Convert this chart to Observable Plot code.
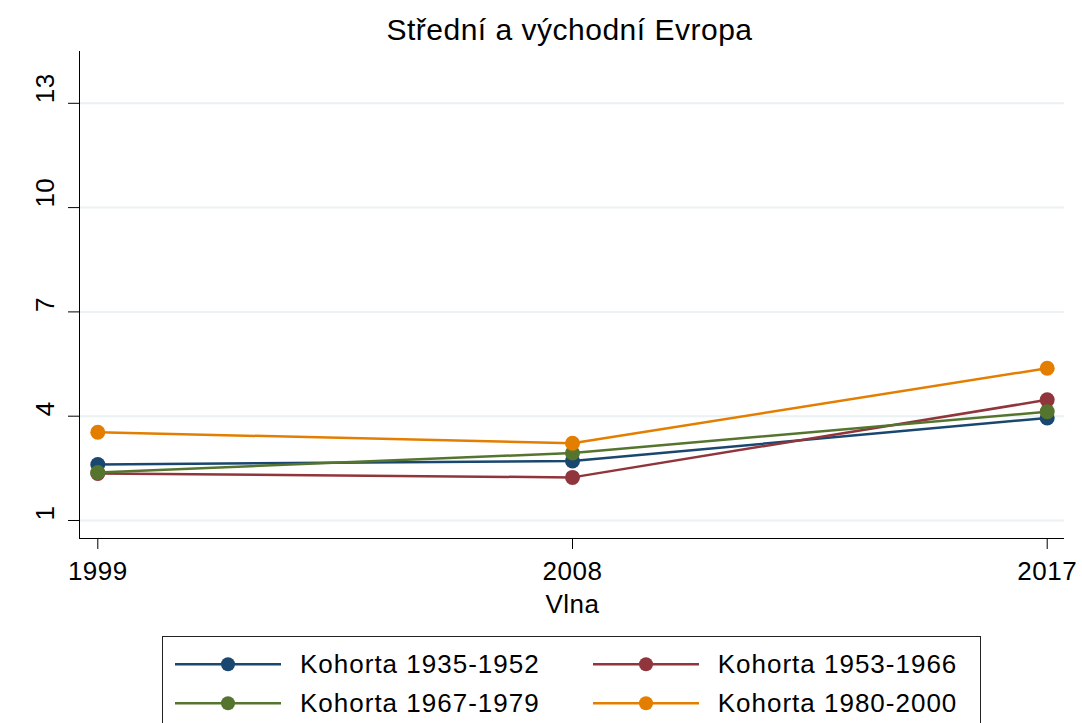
<!DOCTYPE html>
<html>
<head>
<meta charset="utf-8">
<script src="https://cdn.jsdelivr.net/npm/d3@7"></script>
<script src="https://cdn.jsdelivr.net/npm/@observablehq/plot@0.6"></script>
<style>
  html, body { margin: 0; padding: 0; background: #fff; }
  body { width: 1082px; height: 723px; position: relative; overflow: hidden;
         font-family: "Liberation Sans", Arial, Helvetica, sans-serif; color: #000; }
  #title { position: absolute; top: 14.6px; left: 569.5px; transform: translateX(-50%);
           font-size: 30px; line-height: 30px; letter-spacing: 0.5px; white-space: nowrap; }
  #xlabel { position: absolute; top: 591px; left: 572.5px; transform: translateX(-50%);
            font-size: 26px; line-height: 26px; letter-spacing: 0.5px; white-space: nowrap; }
  #chart { position: absolute; top: 0; left: 0; }
  #legend { position: absolute; left: 162px; top: 636px; width: 819px; height: 120px;
            border: 1px solid #222; box-sizing: border-box; }
  .item { position: absolute; height: 26px; white-space: nowrap; }
  .item svg { position: absolute; left: 0; top: 0; }
  .item span { position: absolute; top: 0; font-size: 26px; line-height: 26px; letter-spacing: 1px; }
</style>
</head>
<body>
<div id="chart"></div>
<div id="title"></div>
<div id="xlabel"></div>
<div id="legend"></div>
<script>
// ---- data ----
const titleText = "Střední a východní Evropa";
const xLabel = "Vlna";
const waves = [1999, 2008, 2017];
const cohortNames = ["Kohorta 1935-1952", "Kohorta 1953-1966", "Kohorta 1967-1979", "Kohorta 1980-2000"];
const k1935_1952 = [2.61, 2.71, 3.95];
const k1953_1966 = [2.35, 2.24, 4.47];
const k1967_1979 = [2.38, 2.94, 4.13];
const k1980_2000 = [3.54, 3.22, 5.38];
const cohortColors = ["#1a476f", "#90353b", "#55752f", "#e37e00"];
const yTicks = [1, 4, 7, 10, 13];

const seriesValues = [k1935_1952, k1953_1966, k1967_1979, k1980_2000];
const rows = cohortNames.flatMap((c, i) => waves.map((w, j) => ({cohort: c, wave: w, value: seriesValues[i][j]})));

const xDomain = [1998.653, 2017.328];
const yDomain = [0.482, 14.49];

const seriesMarks = cohortNames.flatMap(c => {
  const d = rows.filter(r => r.cohort === c);
  return [
    Plot.line(d, {x: "wave", y: "value", stroke: "cohort", strokeWidth: 2.5}),
    Plot.dot(d, {x: "wave", y: "value", fill: "cohort", r: 7.5, stroke: "none"})
  ];
});

const chart = Plot.plot({
  width: 1082,
  height: 630,
  marginTop: 51,
  marginBottom: 92,
  marginLeft: 79,
  marginRight: 18,
  style: {fontFamily: '"Liberation Sans", Arial, Helvetica, sans-serif', fontSize: "26px", letterSpacing: "0.5px", color: "#000", background: "transparent"},
  x: {type: "linear", domain: xDomain},
  y: {type: "linear", domain: yDomain},
  color: {domain: cohortNames, range: cohortColors},
  marks: [
    Plot.gridY(yTicks, {stroke: "#eaf2f3", strokeOpacity: 1, strokeWidth: 2}),
    Plot.ruleX([xDomain[0]], {stroke: "#000", strokeWidth: 1}),
    Plot.ruleY([yDomain[0]], {stroke: "#000", strokeWidth: 1}),
    Plot.axisX({ticks: waves, tickSize: 11, tickPadding: 12, tickFormat: d => String(d), label: null, stroke: "#000"}),
    Plot.axisY({ticks: yTicks, tickSize: 11, tickFormat: () => "", label: null, stroke: "#000"}),
    Plot.text(yTicks, {y: d => d, text: d => String(d), frameAnchor: "left", dx: -34, rotate: -90, fill: "#000"}),
    ...seriesMarks
  ]
});
document.getElementById("chart").appendChild(chart);
document.getElementById("title").textContent = titleText;
document.getElementById("xlabel").textContent = xLabel;

// ---- legend ----
const legend = document.getElementById("legend");
const legendPos = [
  {left: 174, top: 650}, {left: 592, top: 650},
  {left: 174, top: 688.5}, {left: 592, top: 688.5}
];
cohortNames.forEach((c, i) => {
  const p = legendPos[i];
  const item = document.createElement("div");
  item.className = "item";
  item.style.left = (p.left - 162) + "px";
  item.style.top = (p.top - 636) + "px";
  const col = cohortColors[i];
  item.innerHTML = `<svg width="108" height="26"><line x1="0" x2="106" y1="13.3" y2="13.3" stroke="${col}" stroke-width="2.5"/><circle cx="53" cy="13.3" r="7" fill="${col}"/></svg><span style="left:${(i % 2 === 0 ? 299 : 716.7) - p.left}px">${c}</span>`;
  legend.appendChild(item);
});
</script>
</body>
</html>
